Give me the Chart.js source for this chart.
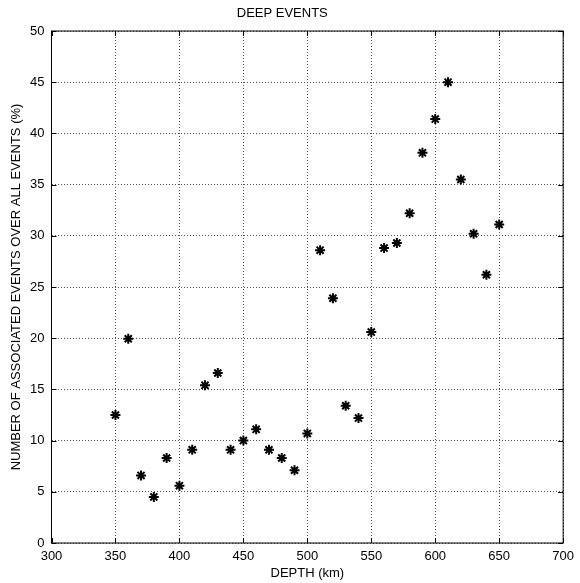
<!DOCTYPE html>
<html>
<head>
<meta charset="utf-8">
<script src="https://cdn.jsdelivr.net/npm/chart.js@4/dist/chart.umd.min.js"></script>
<style>
  html, body { margin: 0; padding: 0; background: #fff; }
  #wrap { width: 580px; height: 583px; }
</style>
</head>
<body>
<div id="wrap"><canvas id="depthChart"></canvas></div>
<script>
// depth of the event group (km)
const depths = [350, 360, 370, 380, 390, 400, 410, 420, 430, 440, 450,
                460, 470, 480, 490, 500, 510, 520, 530, 540, 550,
                560, 570, 580, 590, 600, 610, 620, 630, 640, 650];
// share of associated events over all events (%)
const assocPct = [12.5, 19.95, 6.6, 4.5, 8.3, 5.6, 9.1, 15.4, 16.6, 9.1, 10.0,
                  11.1, 9.1, 8.3, 7.1, 10.7, 28.6, 23.9, 13.4, 12.2, 20.6,
                  28.8, 29.3, 32.2, 38.1, 41.4, 45.0, 35.5, 30.2, 26.2, 31.1];
const xTicks = [300, 350, 400, 450, 500, 550, 600, 650, 700];
const yTicks = [0, 5, 10, 15, 20, 25, 30, 35, 40, 45, 50];

const FONT = '"Liberation Sans", Arial, Helvetica, sans-serif';

// box around the axes plus short inward ticks on all four sides
const boxFrame = {
    id: 'boxFrame',
    beforeDatasetsDraw(chart) {
        const { ctx, chartArea: a, scales } = chart;
        const len = 5;
        ctx.save();
        ctx.strokeStyle = '#000';
        ctx.lineWidth = 1;
        ctx.beginPath();
        xTicks.forEach(v => {
            const px = Math.round(scales.x.getPixelForValue(v)) + 0.5;
            ctx.moveTo(px, a.bottom); ctx.lineTo(px, a.bottom - len);
            ctx.moveTo(px, a.top); ctx.lineTo(px, a.top + len);
        });
        yTicks.forEach(v => {
            const py = Math.round(scales.y.getPixelForValue(v)) + 0.5;
            ctx.moveTo(a.left, py); ctx.lineTo(a.left + len, py);
            ctx.moveTo(a.right, py); ctx.lineTo(a.right - len, py);
        });
        ctx.stroke();
        ctx.strokeRect(a.left, a.top, a.right - a.left, a.bottom - a.top);
        ctx.restore();
    }
};

const ctx = document.getElementById('depthChart').getContext('2d');
const depthChart = new Chart(ctx, {
    type: 'scatter',
    data: {
        datasets: [{
            data: depths.map((d, i) => ({ x: d, y: assocPct[i] })),
            pointStyle: 'star',
            radius: 5,
            borderWidth: 2,
            borderColor: '#000',
            backgroundColor: '#000',
            showLine: false
        }]
    },
    options: {
        responsive: true,
        maintainAspectRatio: false,
        animation: false,
        layout: { padding: { left: 0, right: 15.5, top: 0, bottom: 0 } },
        plugins: {
            legend: { display: false },
            tooltip: { enabled: false },
            title: {
                display: true,
                text: 'DEEP EVENTS',
                color: '#000',
                font: { family: FONT, size: 13, weight: 'normal', lineHeight: 1.2 },
                padding: { top: 6, bottom: 9.4 }
            }
        },
        scales: {
            x: {
                type: 'linear',
                min: 300,
                max: 700,
                afterFit(scale) { scale.height = 40; },
                afterBuildTicks(scale) { scale.ticks = xTicks.map(v => ({ value: v })); },
                ticks: {
                    color: '#000',
                    padding: 6,
                    font: { family: FONT, size: 13 }
                },
                grid: {
                    color: '#555',
                    lineWidth: 1,
                    drawTicks: false
                },
                border: { display: false, dash: [1, 2] },
                title: {
                    display: true,
                    text: 'DEPTH (km)',
                    color: '#000',
                    font: { family: FONT, size: 13, lineHeight: 1.2 },
                    padding: { top: 0, bottom: 2 }
                }
            },
            y: {
                type: 'linear',
                min: 0,
                max: 50,
                afterFit(scale) { scale.width = 51.5; },
                afterBuildTicks(scale) { scale.ticks = yTicks.map(v => ({ value: v })); },
                ticks: {
                    color: '#000',
                    padding: 7,
                    font: { family: FONT, size: 13 }
                },
                grid: {
                    color: '#555',
                    lineWidth: 1,
                    drawTicks: false
                },
                border: { display: false, dash: [1, 2] },
                title: {
                    display: true,
                    text: 'NUMBER OF ASSOCIATED EVENTS OVER ALL EVENTS (%)',
                    color: '#000',
                    font: { family: FONT, size: 13, lineHeight: 1.2 },
                    padding: { top: 9, bottom: 0 }
                }
            }
        }
    },
    plugins: [boxFrame]
});
</script>
</body>
</html>
